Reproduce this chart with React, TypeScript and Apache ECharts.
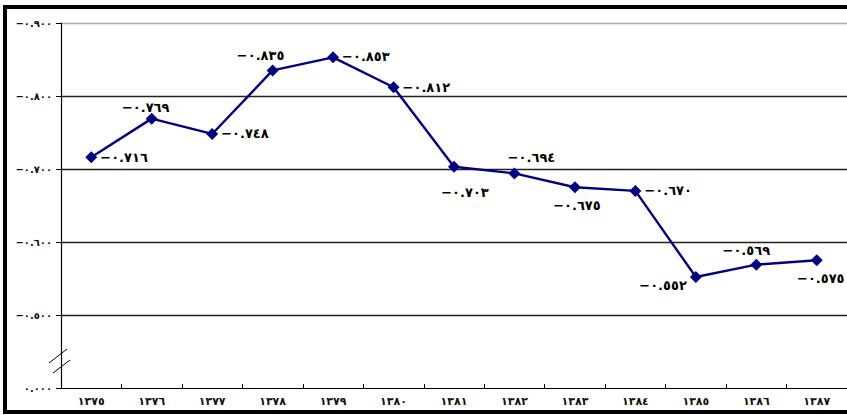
import React, { useEffect, useRef } from "react";
import * as echarts from "echarts";

const years = ["۱۳۷۵", "۱۳۷۶", "۱۳۷۷", "۱۳۷۸", "۱۳۷۹", "۱۳۸۰", "۱۳۸۱", "۱۳۸۲", "۱۳۸۳", "۱۳۸۴", "۱۳۸۵", "۱۳۸۶", "۱۳۸۷"];
const values = [0.716, 0.769, 0.748, 0.835, 0.853, 0.812, 0.703, 0.694, 0.675, 0.67, 0.552, 0.569, 0.575];
const yTicks = [0.4, 0.5, 0.6, 0.7, 0.8, 0.9];

// label placement per point (style only)
const labelPlacement: { position: string; offset: [number, number] }[] = [
  { position: "right", offset: [0, 0] },
  { position: "top", offset: [-6, 4] },
  { position: "right", offset: [0, 0] },
  { position: "top", offset: [-12, 1] },
  { position: "right", offset: [0, -1] },
  { position: "right", offset: [0, 0] },
  { position: "bottom", offset: [11, 10] },
  { position: "top", offset: [17, 0] },
  { position: "bottom", offset: [2, 3] },
  { position: "right", offset: [0, 0] },
  { position: "left", offset: [0, 8] },
  { position: "top", offset: [-10, 1] },
  { position: "bottom", offset: [4, 3] },
];

const arabicDigits = "٠١٢٣٤٥٦٧٨٩";
const toAr = (s: string) => s.replace(/[0-9]/g, (d) => arabicDigits[+d]);
const fmtVal = (v: number) => "\u2212" + toAr(v.toFixed(3));
const fmtYear = (s: string) => s.replace(/[۰-۹]/g, (d) => arabicDigits[d.charCodeAt(0) - 0x06f0]);

export default function App() {
  const ref = useRef<HTMLDivElement>(null);
  useEffect(() => {
    if (!ref.current) return;
    const chart = echarts.init(ref.current, null, { renderer: "svg" });
    chart.setOption({
      animation: false,
      backgroundColor: "#fff",
      grid: { left: 61, top: 23, width: 789, bottom: 27, containLabel: false },
      xAxis: {
        type: "category",
        data: years,
        boundaryGap: true,
        axisLine: { lineStyle: { color: "#000", width: 1.2 } },
        axisTick: { show: true, inside: true, length: 4, lineStyle: { color: "#000" } },
        axisLabel: {
          margin: 8,
          fontFamily: "DejaVu Sans",
          fontSize: 11,
          fontWeight: "bold",
          color: "#111",
          formatter: (s: string) => fmtYear(s),
        },
        splitLine: { show: false },
      },
      yAxis: {
        type: "value",
        min: yTicks[0],
        max: yTicks[yTicks.length - 1],
        interval: 0.1,
        axisLine: { show: true, lineStyle: { color: "#000", width: 1.2 } },
        axisTick: { show: true, length: 5, lineStyle: { color: "#000" } },
        axisLabel: {
          margin: 9,
          fontFamily: "DejaVu Sans",
          fontSize: 10,
          fontWeight: "bold",
          color: "#111",
          formatter: (v: number) => (v < 0.45 ? toAr("0.000") : fmtVal(v)),
        },
        splitLine: {
          show: true,
          showMinLine: false,
          lineStyle: { color: ["#222", "#222", "#222", "#222", "#aaa"], width: 1.4 },
        },
      },
      graphic: [
        {
          type: "rect",
          shape: { x: 5, y: 7, width: 900, height: 405 },
          style: { fill: "none", stroke: "#000", lineWidth: 4 },
          silent: true,
        },
        {
          type: "line",
          shape: { x1: 49, y1: 363, x2: 67, y2: 349 },
          style: { stroke: "#000", lineWidth: 1 },
        },
        {
          type: "line",
          shape: { x1: 53, y1: 373, x2: 70, y2: 360 },
          style: { stroke: "#000", lineWidth: 1 },
        },
      ],
      series: [
        {
          type: "line",
          data: values.map((v, i) => ({
            value: v,
            label: {
              show: true,
              position: labelPlacement[i].position,
              offset: labelPlacement[i].offset,
              distance: 3,
            },
          })),
          symbol: "diamond",
          symbolSize: 12,
          lineStyle: { color: "#000080", width: 2.4 },
          itemStyle: { color: "#000080" },
          label: {
            show: true,
            fontFamily: "DejaVu Sans",
            fontSize: 13,
            fontWeight: "bold",
            color: "#000",
            formatter: (p: any) => fmtVal(p.value),
          },
        },
      ],
    });
    return () => chart.dispose();
  }, []);
  return (
    <div
      ref={ref}
      style={{ position: "fixed", left: 0, top: 0, width: 847, height: 415, background: "#fff" }}
    />
  );
}
